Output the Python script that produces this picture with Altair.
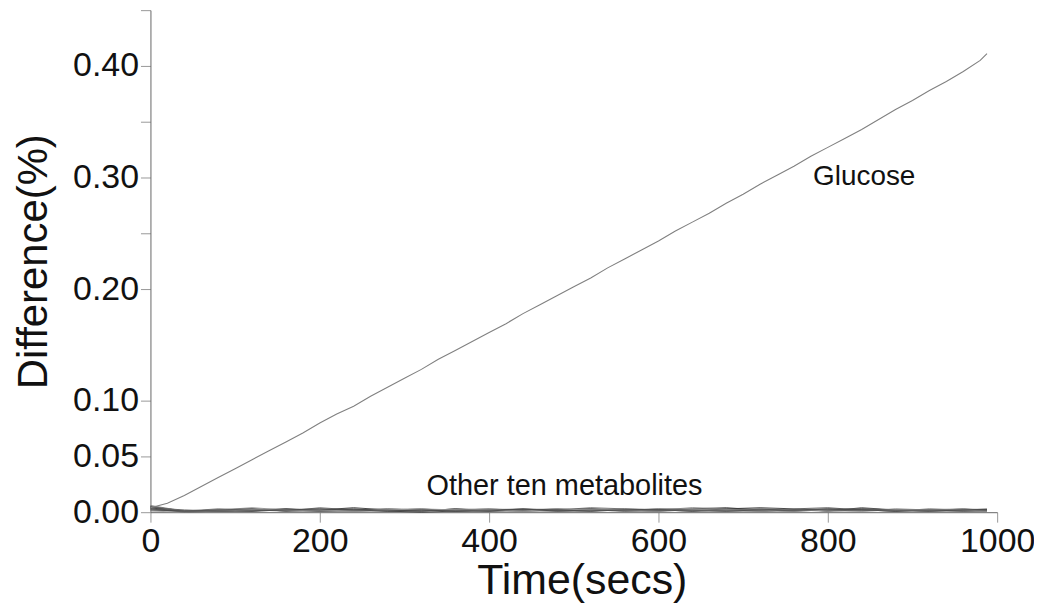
import altair as alt
import pandas as pd

# Time points (seconds)
time_glucose = [0, 20, 40, 60, 80, 100, 120, 140, 160, 180, 200, 220, 240, 260, 280, 300,
                320, 340, 360, 380, 400, 420, 440, 460, 480, 500, 520, 540, 560, 580, 600,
                620, 640, 660, 680, 700, 720, 740, 760, 780, 800, 820, 840, 860, 880, 900,
                920, 940, 960, 980, 988]
glucose = [0.004, 0.008, 0.015, 0.023, 0.031, 0.039, 0.047, 0.055, 0.063, 0.071, 0.080,
           0.088, 0.095, 0.104, 0.112, 0.120, 0.128, 0.137, 0.145, 0.153, 0.161, 0.169,
           0.178, 0.186, 0.194, 0.202, 0.210, 0.219, 0.227, 0.235, 0.243, 0.252, 0.260,
           0.268, 0.277, 0.285, 0.294, 0.302, 0.310, 0.319, 0.327, 0.335, 0.343, 0.352,
           0.361, 0.369, 0.378, 0.386, 0.395, 0.405, 0.411]

time_other = [0, 40, 80, 120, 160, 200, 240, 280, 320, 360, 400, 440, 480, 520, 560, 600,
              640, 680, 720, 760, 800, 840, 880, 920, 960, 988]
# values in units of 0.001 %
m1 = [5, 1, 2, 3, 1, 2, 4, 2, 1, 3, 2, 1, 2, 3, 2, 1, 3, 4, 2, 1, 2, 3, 2, 1, 2, 2]
m2 = [4, 2, 1, 2, 3, 1, 2, 3, 2, 1, 2, 3, 1, 2, 2, 3, 2, 1, 2, 3, 4, 2, 1, 2, 3, 2]
m3 = [6, 1, 1, 2, 2, 3, 1, 1, 2, 2, 3, 2, 2, 1, 3, 2, 4, 3, 1, 2, 2, 1, 3, 2, 1, 1]
m4 = [3, 0, 2, 1, 2, 1, 1, 2, 3, 1, 1, 2, 3, 2, 1, 1, 2, 2, 3, 2, 1, 4, 2, 2, 1, 2]
m5 = [5, 1, 3, 2, 1, 4, 2, 1, 1, 2, 1, 1, 2, 4, 3, 2, 1, 2, 1, 1, 3, 2, 1, 3, 2, 3]
m6 = [2, 1, 2, 4, 2, 1, 1, 3, 2, 2, 3, 1, 1, 2, 1, 3, 3, 2, 2, 1, 2, 1, 2, 1, 3, 1]
m7 = [4, 0, 1, 1, 3, 2, 3, 1, 0, 1, 2, 2, 1, 1, 2, 2, 1, 3, 4, 3, 1, 2, 1, 2, 2, 2]
m8 = [3, 1, 2, 3, 1, 1, 2, 2, 1, 3, 1, 2, 2, 3, 1, 2, 2, 1, 1, 2, 2, 3, 2, 1, 1, 1]
m9 = [1, 0, 1, 2, 2, 2, 1, 2, 3, 2, 2, 1, 3, 2, 2, 1, 2, 2, 1, 3, 1, 1, 2, 2, 2, 1]
m10 = [2, 1, 1, 1, 2, 3, 2, 1, 2, 1, 1, 3, 2, 1, 2, 2, 1, 1, 2, 2, 3, 2, 1, 1, 2, 2]
others = [m1, m2, m3, m4, m5, m6, m7, m8, m9, m10]
other_names = ["M1", "M2", "M3", "M4", "M5", "M6", "M7", "M8", "M9", "M10"]
other_colors = ["#333333", "#555555", "#777777", "#444444", "#666666",
                "#888888", "#3a3a3a", "#5a5a5a", "#999999", "#4a4a4a"]

y_ticks = [0, 0.05, 0.1, 0.2, 0.25, 0.3, 0.35, 0.4, 0.45]
x_ticks = [0, 200, 400, 600, 800, 1000]

label_text = ["Glucose", "Other ten metabolites"]
label_x = [843, 489]
label_y = [0.300, 0.0232]
label_size = [28, 29]

FONT = "Liberation Sans"

df_g = pd.DataFrame({"t": time_glucose, "v": glucose})
rows = []
for name, vals in zip(other_names, others):
    for t, v in zip(time_other, vals):
        rows.append({"t": t, "v": v / 1000.0, "s": name})
df_o = pd.DataFrame(rows)
df_l = pd.DataFrame({"text": label_text, "x": label_x, "y": label_y, "size": label_size})

x_enc = alt.X("t:Q", scale=alt.Scale(domain=[0, 1000], nice=False),
              axis=alt.Axis(values=x_ticks, title="Time(secs)", format="d",
                            labelFlush=False, titleX=433, titleFontSize=43))
y_enc = alt.Y("v:Q", scale=alt.Scale(domain=[0, 0.45], nice=False),
              axis=alt.Axis(values=y_ticks, title="Difference(%)", labelFlush=False,
                            titleFontSize=42,
                            labelExpr="(datum.value == 0.25 || datum.value == 0.35 || datum.value == 0.45) ? '' : format(datum.value, '.2f')"))

other_lines = alt.Chart(df_o).mark_line(strokeWidth=0.9).encode(
    x=x_enc, y=y_enc,
    color=alt.Color("s:N", scale=alt.Scale(domain=other_names, range=other_colors), legend=None),
)

glucose_line = alt.Chart(df_g).mark_line(strokeWidth=1.1, color="#808080").encode(x="t:Q", y="v:Q")

labels = alt.Chart(df_l).mark_text(font=FONT, color="#111111",
                                   align="center", baseline="middle").encode(
    x="x:Q", y="y:Q", text="text:N",
    size=alt.Size("size:Q", scale=None, legend=None))

chart = alt.layer(other_lines, glucose_line, labels).properties(
    width=850, height=504,
    autosize=alt.AutoSizeParams(type="none"),
    padding={"left": 143, "top": 1, "right": 37, "bottom": 90},
).configure_view(stroke=None).configure_axis(
    grid=False,
    domainColor="#666666",
    tickColor="#999999",
    tickSize=10,
    labelFont=FONT,
    labelFontSize=34,
    labelColor="#111111",
    titleFont=FONT,
    titleFontWeight="normal",
    titleColor="#111111",
    labelPadding=2,
).configure_axisY(titlePadding=17).configure_axisX(titlePadding=2)

chart.save("out.html", embed_options={"renderer": "svg", "actions": False})
